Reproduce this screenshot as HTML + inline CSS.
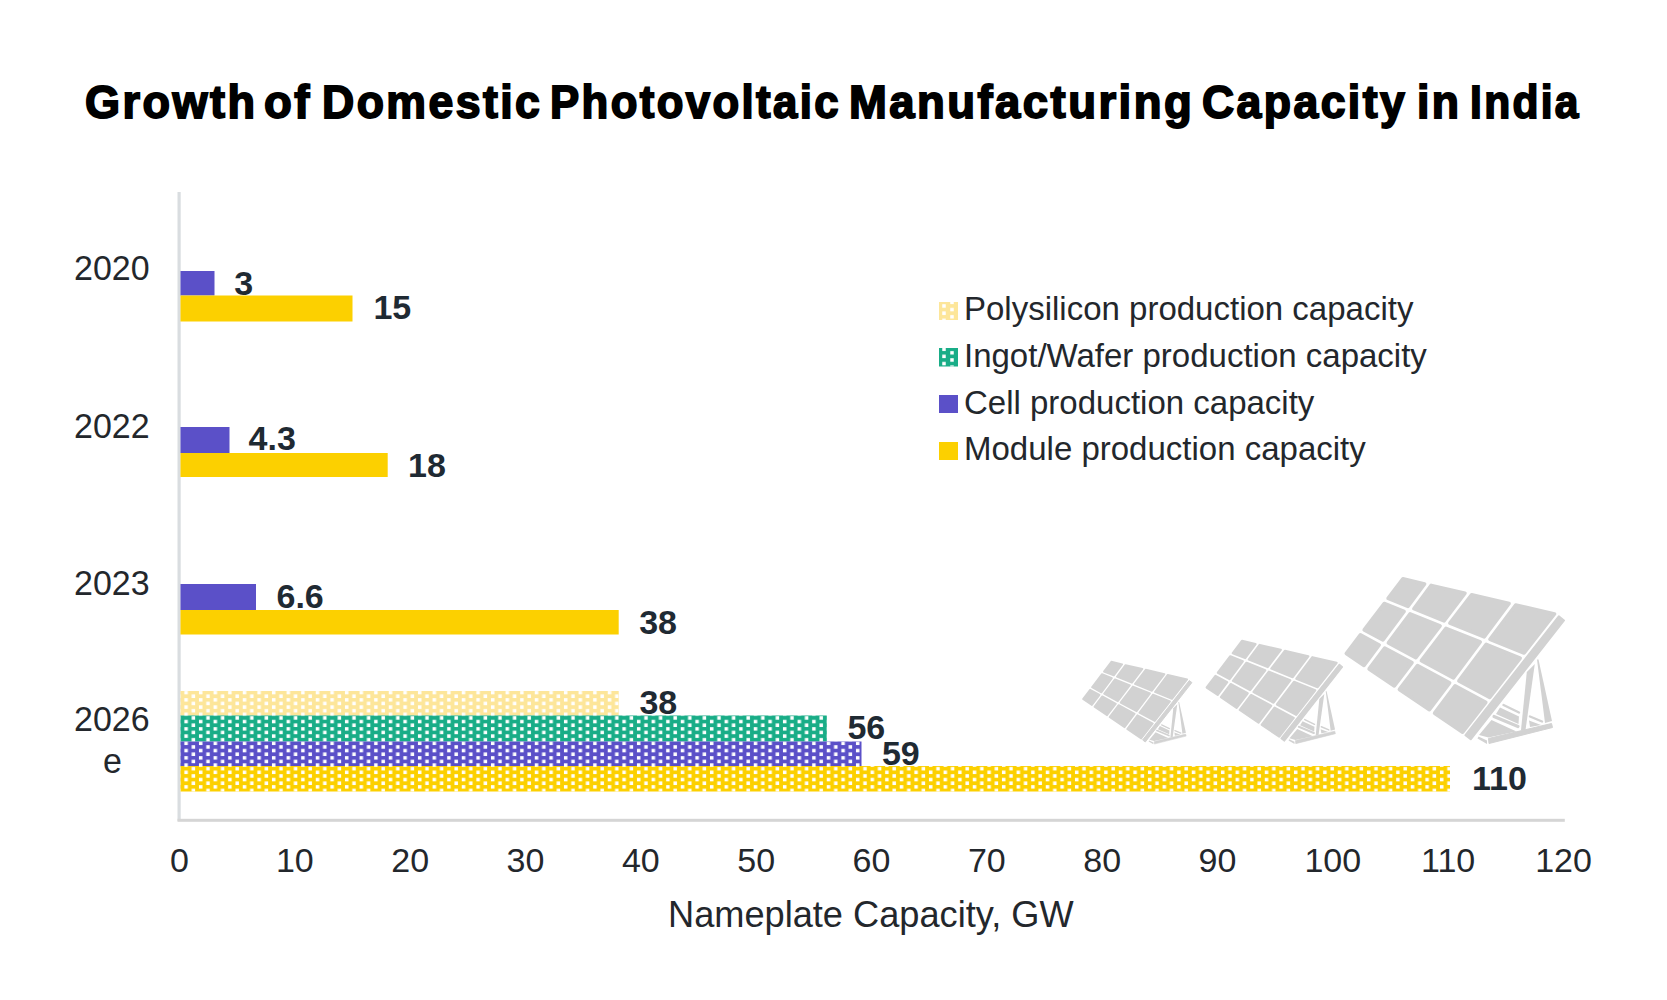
<!DOCTYPE html>
<html><head><meta charset="utf-8">
<style>
html,body{margin:0;padding:0;background:#fff;}
body{width:1667px;height:1000px;position:relative;overflow:hidden;font-family:"Liberation Sans",sans-serif;}
.t{position:absolute;white-space:nowrap;line-height:1;}
.tw{top:78.5px;font-size:46px;transform-origin:0 0;-webkit-text-stroke:1.8px #000;letter-spacing:2.5px;font-weight:bold;color:#000;}
.yr{font-size:34px;color:#23272c;transform-origin:0 0;transform:translateY(0.5px) scaleY(1.045);}
.val{font-size:34px;font-weight:bold;color:#1f2a33;}
.tick{font-size:34px;color:#23272c;}
.leg{font-size:33px;color:#23272c;}
</style></head>
<body>
<div class="t tw" style="left:85.0px;transform:scaleX(0.9795)">Growth</div>
<div class="t tw" style="left:264.3px;transform:scaleX(0.9891)">of</div>
<div class="t tw" style="left:321.5px;transform:scaleX(0.9700)">Domestic</div>
<div class="t tw" style="left:550.1px;transform:scaleX(0.9507)">Photovoltaic</div>
<div class="t tw" style="left:849.0px;transform:scaleX(0.9878)">Manufacturing</div>
<div class="t tw" style="left:1202.0px;transform:scaleX(0.9686)">Capacity</div>
<div class="t tw" style="left:1417.4px;transform:scaleX(0.9675)">in</div>
<div class="t tw" style="left:1470.0px;transform:scaleX(0.9248)">India</div>


<svg width="1667" height="1000" style="position:absolute;left:0;top:0">
<defs>
<pattern id="dots" width="14.6" height="7.25" patternUnits="userSpaceOnUse" x="182.45" y="719.7">
<rect x="1.900" y="0.150" width="3.5" height="3.5" fill="#fff"/>
<rect x="9.200" y="3.775" width="3.5" height="3.5" fill="#fff"/>
<rect x="9.200" y="-3.475" width="3.5" height="3.5" fill="#fff"/>
</pattern>
<pattern id="ldots" width="16" height="7.2" patternUnits="userSpaceOnUse" x="940" y="347.3">
<rect x="2.25" y="0.15" width="3.5" height="3.5" fill="#fff"/>
<rect x="10.25" y="3.75" width="3.5" height="3.5" fill="#fff"/>
<rect x="10.25" y="-3.45" width="3.5" height="3.5" fill="#fff"/>
</pattern>
</defs>

<defs>

<g id="panel">
<g fill="#d2d2d2" stroke="#d2d2d2" stroke-width="3.6" stroke-linejoin="round">
<polygon points="1402.9,578.8 1424.6,583.9 1407.9,606.3 1388.1,598.4"/>
<polygon points="1384.2,603.5 1404.1,611.5 1382.9,640.0 1364.2,629.9"/>
<polygon points="1360.4,634.9 1379.2,645.0 1364.0,665.4 1346.3,653.5"/>
<polygon points="1431.2,585.4 1465.0,593.2 1444.0,620.8 1413.9,608.7"/>
<polygon points="1410.1,613.9 1440.1,625.9 1415.8,657.7 1388.4,642.9"/>
<polygon points="1384.7,648.0 1412.0,662.7 1394.3,685.9 1369.1,668.9"/>
<polygon points="1471.6,594.8 1509.1,603.5 1484.1,636.9 1449.9,623.2"/>
<polygon points="1446.0,628.3 1480.2,642.0 1453.4,677.8 1421.4,660.6"/>
<polygon points="1417.5,665.6 1449.6,682.8 1429.4,709.7 1399.4,689.4"/>
<polygon points="1515.7,605.0 1554.5,614.0 1524.1,653.0 1490.0,639.3"/>
<polygon points="1486.2,644.4 1520.2,658.1 1489.7,697.3 1458.9,680.8"/>
<polygon points="1455.1,685.8 1485.8,702.3 1462.6,732.2 1434.6,713.2"/>
</g>
<polygon points="1558.8,616.4 1465.5,735.2 1470.7,739.3 1564.0,620.5" fill="#d2d2d2" stroke="#d2d2d2" stroke-width="2" stroke-linejoin="round"/>
<polygon points="1526.8,672 1534.8,664 1525.5,730 1521,730" fill="#d2d2d2"/>
<polygon points="1537,659.5 1538.5,659.5 1552,721 1545,723" fill="#d2d2d2"/>
<polygon points="1488.5,738.5 1551.5,723.5 1552.5,727.5 1489,743.5" fill="#d2d2d2" stroke="#d2d2d2" stroke-width="1" stroke-linejoin="round"/>
<polygon points="1478.5,736.5 1487,740.5 1487,744 1477.5,738.5" fill="#d2d2d2"/>
<polygon points="1479,735 1491.5,720 1516.5,731.5 1488.5,737.5" fill="#d2d2d2"/>
<line x1="1494" y1="716.5" x2="1518" y2="726.5" stroke="#d2d2d2" stroke-width="3.2" stroke-linecap="round"/>
<polygon points="1500,707.5 1519,716.5 1518.5,724 1496,714" fill="#d2d2d2"/>
<line x1="1503.5" y1="705" x2="1519" y2="712.5" stroke="#d2d2d2" stroke-width="2.4" stroke-linecap="round"/>
<line x1="1530" y1="716.5" x2="1542" y2="721.5" stroke="#d2d2d2" stroke-width="2.4" stroke-linecap="round"/>
<polygon points="1529,720.5 1541,725 1530,727" fill="#d2d2d2"/>
</g>
</defs>
<use href="#panel" transform="translate(409.9,372.35) scale(0.5)"/>
<use href="#panel" transform="translate(366.6,279.7) scale(0.624)"/>
<use href="#panel"/>
<!-- axes -->
<rect x="177.5" y="192" width="3.2" height="629" fill="#d9dde0"/>
<rect x="177.5" y="818.8" width="1387.3" height="3" fill="#d5d5d5"/>
<!-- 2020 -->
<rect x="180.5" y="271" width="34" height="24.5" fill="#5b50c8"/>
<rect x="180.5" y="295.5" width="172" height="26" fill="#fcd000"/>
<!-- 2022 -->
<rect x="180.5" y="427" width="49" height="26" fill="#5b50c8"/>
<rect x="180.5" y="453" width="207.2" height="24" fill="#fcd000"/>
<!-- 2023 -->
<rect x="180.5" y="584" width="75.5" height="26" fill="#5b50c8"/>
<rect x="180.5" y="610" width="438.2" height="24.5" fill="#fcd000"/>
<!-- 2026 -->
<rect x="180.5" y="691" width="438.2" height="24.5" fill="#fde69a"/>
<rect x="180.5" y="691" width="438.2" height="24.5" fill="url(#dots)"/>
<rect x="180.5" y="715.5" width="646.3" height="26" fill="#19ad87"/>
<rect x="180.5" y="715.5" width="646.3" height="26" fill="url(#dots)"/>
<rect x="180.5" y="741.5" width="681" height="24.5" fill="#5b50c8"/>
<rect x="180.5" y="741.5" width="681" height="24.5" fill="url(#dots)"/>
<rect x="180.5" y="766" width="1269.5" height="25.5" fill="#fcd000"/>
<rect x="180.5" y="766" width="1269.5" height="25.5" fill="url(#dots)"/>
<!-- legend squares -->
<rect x="939" y="302" width="19" height="18" fill="#fde69a"/>
<rect x="939" y="302" width="19" height="18" fill="url(#ldots)"/>
<rect x="939" y="348" width="19" height="18.5" fill="#19ad87"/>
<rect x="939" y="348" width="19" height="18.5" fill="url(#ldots)"/>
<rect x="939" y="395" width="19" height="18" fill="#5b50c8"/>
<rect x="939" y="442" width="19" height="18" fill="#fcd000"/>
</svg>

<!-- year labels -->
<div class="t yr" style="left:74px;top:249px">2020</div>
<div class="t yr" style="left:74px;top:407px">2022</div>
<div class="t yr" style="left:74px;top:564px">2023</div>
<div class="t yr" style="left:74px;top:700px">2026</div>
<div class="t yr" style="left:103px;top:741.5px">e</div>

<!-- value labels -->
<div class="t val" style="left:234.3px;top:265.5px">3</div>
<div class="t val" style="left:373.4px;top:289.7px">15</div>
<div class="t val" style="left:248.6px;top:420.9px">4.3</div>
<div class="t val" style="left:408.1px;top:447.8px">18</div>
<div class="t val" style="left:276.5px;top:578.5px">6.6</div>
<div class="t val" style="left:639.2px;top:605.2px">38</div>
<div class="t val" style="left:639.4px;top:685.2px">38</div>
<div class="t val" style="left:847.4px;top:709.5px">56</div>
<div class="t val" style="left:881.9px;top:736.4px">59</div>
<div class="t val" style="left:1472.0px;top:760.8px">110</div>

<!-- ticks -->
<div class="t tick" style="left:119.5px;width:120px;text-align:center;top:843px">0</div>
<div class="t tick" style="left:234.8px;width:120px;text-align:center;top:843px">10</div>
<div class="t tick" style="left:350.2px;width:120px;text-align:center;top:843px">20</div>
<div class="t tick" style="left:465.5px;width:120px;text-align:center;top:843px">30</div>
<div class="t tick" style="left:580.8px;width:120px;text-align:center;top:843px">40</div>
<div class="t tick" style="left:696.2px;width:120px;text-align:center;top:843px">50</div>
<div class="t tick" style="left:811.5px;width:120px;text-align:center;top:843px">60</div>
<div class="t tick" style="left:926.8px;width:120px;text-align:center;top:843px">70</div>
<div class="t tick" style="left:1042.2px;width:120px;text-align:center;top:843px">80</div>
<div class="t tick" style="left:1157.5px;width:120px;text-align:center;top:843px">90</div>
<div class="t tick" style="left:1272.8px;width:120px;text-align:center;top:843px">100</div>
<div class="t tick" style="left:1388.2px;width:120px;text-align:center;top:843px">110</div>
<div class="t tick" style="left:1503.5px;width:120px;text-align:center;top:843px">120</div>

<!-- legend -->
<div class="t leg" style="left:964px;top:291.5px">Polysilicon production capacity</div>
<div class="t leg" style="left:964px;top:338.5px">Ingot/Wafer production capacity</div>
<div class="t leg" style="left:964px;top:385.5px">Cell production capacity</div>
<div class="t leg" style="left:964px;top:431.5px">Module production capacity</div>

<div class="t" style="left:668px;top:896.5px;font-size:36.2px;color:#23272c">Nameplate Capacity, GW</div>
</body></html>
